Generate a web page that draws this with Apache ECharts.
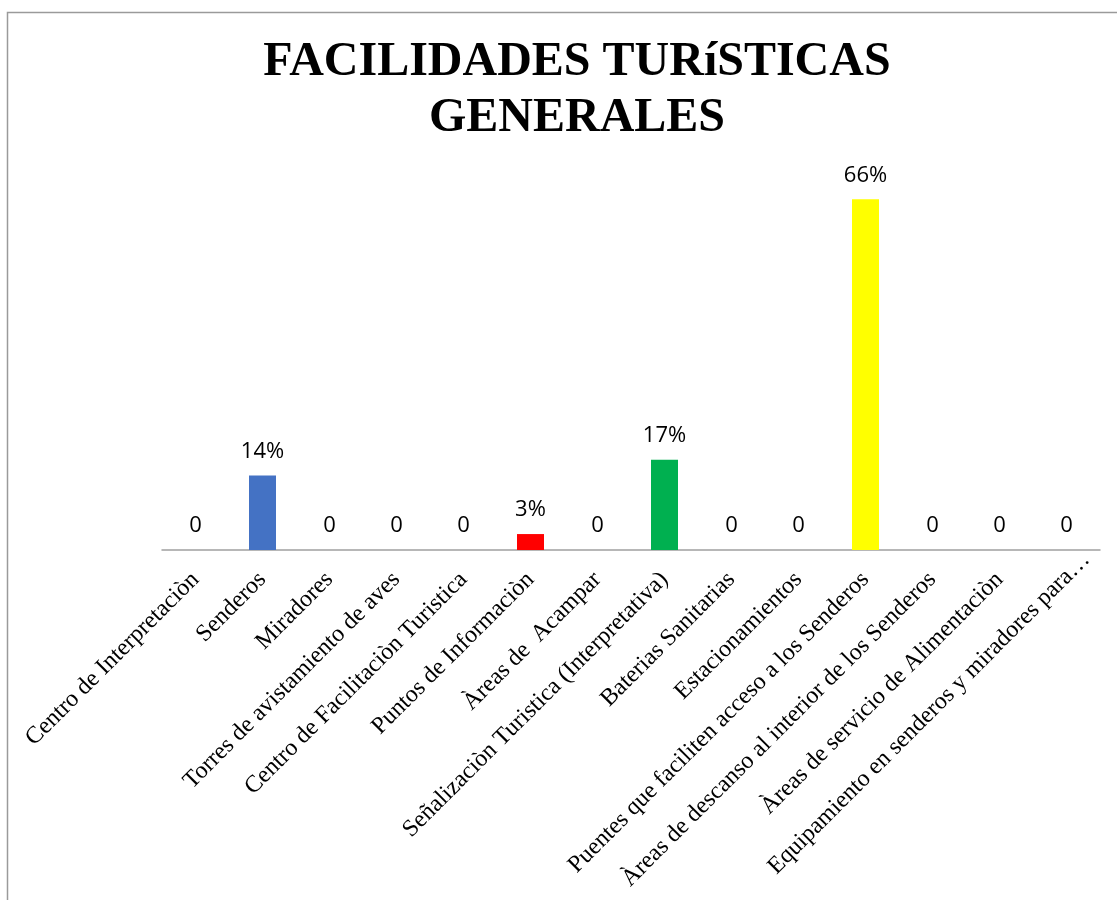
<!DOCTYPE html>
<html>
<head>
    <meta charset="UTF-8">
    <title>Facilidades turisticas generales</title>
    <script src="https://cdn.jsdelivr.net/npm/echarts@6/dist/echarts.min.js"></script>
    <style>
        html, body { margin: 0; padding: 0; background: #fff; }
        #chart { width: 1117px; height: 900px; }
    </style>
</head>
<body>
    <div id="chart"></div>

    <script>
        var categories = [
            'Centro de Interpretaciòn',
            'Senderos',
            'Miradores',
            'Torres de avistamiento de aves',
            'Centro de Facilitaciòn Turistica',
            'Puntos de Informaciòn',
            'Àreas de  Acampar',
            'Señalizaciòn Turistica (Interpretativa)',
            'Baterias Sanitarias',
            'Estacionamientos',
            'Puentes que faciliten acceso a los Senderos',
            'Àreas de descanso al interior de los Senderos',
            'Àreas de servicio de Alimentaciòn',
            'Equipamiento en senderos y miradores para…'
        ];
        var values = [0, 0.14, 0, 0, 0, 0.03, 0, 0.17, 0, 0, 0.66, 0, 0, 0];
        var barColors = ['#4472C4', '#4472C4', '#4472C4', '#4472C4', '#4472C4', '#FF0000', '#4472C4',
                         '#00B050', '#4472C4', '#4472C4', '#FFFF00', '#4472C4', '#4472C4', '#4472C4'];

        var chart = echarts.init(document.getElementById('chart'), null, {renderer: 'canvas'});

        var data = values.map(function (v, i) {
            return { value: v, itemStyle: { color: barColors[i] } };
        });

        // the truncated last label sits a little further up the diagonal in the original
        var xData = categories.map(function (c, i) {
            if (i === categories.length - 1) {
                return { value: c, textStyle: { padding: [0, -28, 0, 0] } };
            }
            return c;
        });

        chart.setOption({
            animation: false,
            title: {
                text: 'FACILIDADES TURíSTICAS\nGENERALES',
                left: 572,
                textAlign: 'center',
                top: 30,
                textStyle: {
                    fontFamily: 'Liberation Serif',
                    fontWeight: 'bold',
                    fontSize: 48,
                    lineHeight: 56,
                    color: '#000'
                }
            },
            graphic: [{
                type: 'rect',
                left: 5,
                top: 10,
                shape: { width: 1200, height: 1000 },
                style: { fill: 'none', stroke: '#9a9a9a', lineWidth: 1.5 },
                silent: true
            }],
            grid: { left: 162, right: 17, top: 178, bottom: 350 },
            xAxis: {
                type: 'category',
                data: xData,
                axisLine: { lineStyle: { color: '#a0a0a0', width: 1.5 } },
                axisTick: { show: false },
                axisLabel: {
                    interval: 0,
                    rotate: 45,
                    margin: 26,
                    color: '#000',
                    fontFamily: 'Liberation Serif',
                    fontSize: 24
                }
            },
            yAxis: {
                type: 'value',
                min: 0,
                max: 0.7,
                show: false,
                splitLine: { show: false }
            },
            series: [{
                type: 'bar',
                data: data,
                barWidth: 27,
                label: {
                    show: true,
                    position: 'top',
                    distance: 13,
                    color: '#000',
                    fontFamily: 'Open Sans',
                    fontSize: 22,
                    formatter: function (p) {
                        return p.value === 0 ? '0' : Math.round(p.value * 100) + '%';
                    }
                }
            }]
        });
    </script>
</body>
</html>
